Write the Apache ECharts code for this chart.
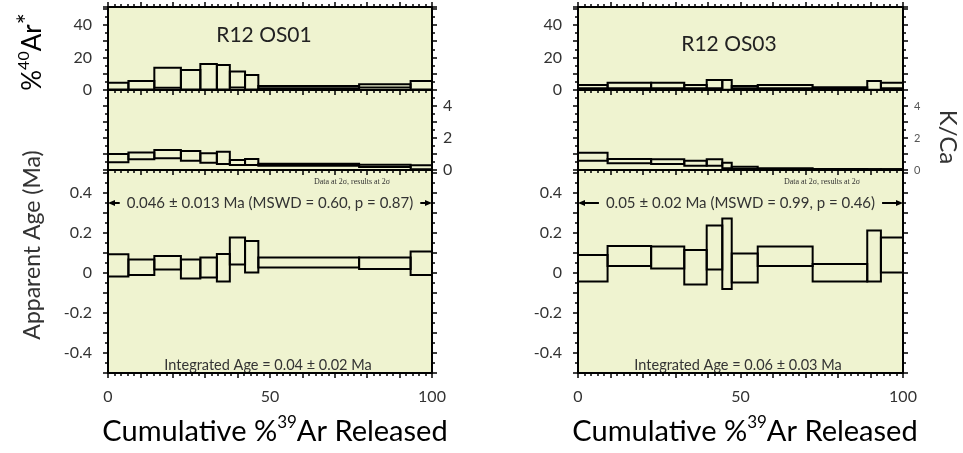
<!DOCTYPE html>
<html>
<head>
<meta charset="utf-8">
<script src="https://cdn.jsdelivr.net/npm/echarts@6/dist/echarts.min.js"></script>
<style>
  html, body { margin: 0; padding: 0; background: #ffffff; }
  #c { width: 963px; height: 453px; }
</style>
</head>
<body>
<div id="c"></div>
<script>
// ---- Sample R12 OS01: step boundaries (cumulative %39Ar) and 2-sigma box limits ----
const os01Steps = [0, 6.3, 14.3, 22.5, 28.5, 33.6, 37.6, 42.3, 46.4, 77.5, 93.4, 100];
const os01AgeLo = [-0.018, -0.010, 0.018, -0.027, -0.022, -0.043, 0.043, 0.003, 0.028, 0.020, -0.010];
const os01AgeHi = [0.094, 0.068, 0.085, 0.068, 0.078, 0.095, 0.178, 0.160, 0.078, 0.078, 0.107];
const os01ArLo = [0.3, 0.3, 1.4, 0.3, 0.3, 0.3, 1.6, 0.3, 1.0, 1.6, 0.3];
const os01ArHi = [4.5, 5.5, 13.7, 12.3, 16.0, 15.4, 11.3, 9.2, 2.5, 3.5, 5.5];
const os01KCaLo = [0.48, 0.67, 0.73, 0.58, 0.46, 0.38, 0.31, 0.31, 0.27, 0.19, 0.04];
const os01KCaHi = [1.00, 1.10, 1.25, 1.19, 1.04, 1.14, 0.63, 0.69, 0.39, 0.33, 0.29];

// ---- Sample R12 OS03 ----
const os03Steps = [0, 9.1, 22.5, 32.7, 39.6, 44.4, 47.3, 55.3, 72.2, 89.0, 93.2, 100];
const os03AgeLo = [-0.043, 0.035, 0.022, -0.057, 0.018, -0.080, -0.048, 0.035, -0.043, -0.043, 0.002];
const os03AgeHi = [0.090, 0.135, 0.132, 0.115, 0.237, 0.273, 0.098, 0.132, 0.045, 0.212, 0.177];
const os03ArLo = [1.0, 1.0, 1.0, 1.0, 1.0, 0.2, 1.0, 1.0, 0.4, 0.2, 1.0];
const os03ArHi = [3.1, 4.5, 4.5, 3.1, 6.2, 6.2, 2.5, 3.1, 1.7, 5.5, 4.5];
const os03KCaLo = [0.58, 0.42, 0.38, 0.27, 0.27, 0.11, 0.06, 0.03, 0.01, 0.01, 0.01];
const os03KCaHi = [1.08, 0.69, 0.67, 0.58, 0.67, 0.46, 0.21, 0.11, 0.06, 0.06, 0.06];

// ---- Texts ----
const sampleNames = ['R12 OS01', 'R12 OS03'];
const plateauTexts = ['0.046 \u00b1 0.013 Ma (MSWD = 0.60, p = 0.87)', '0.05 \u00b1 0.02 Ma (MSWD = 0.99, p = 0.46)'];
const integratedTexts = ['Integrated Age = 0.04 \u00b1 0.02 Ma', 'Integrated Age = 0.06 \u00b1 0.03 Ma'];
const plateauFrom = [0, 0];
const plateauTo = [100, 100];
const xTickLabels = [0, 50, 100];
const arTickLabels = [0, 20, 40];
const kcaTickLabels = [0, 2, 4];
const ageTickLabels = [-0.4, -0.2, 0, 0.2, 0.4];

// ---- Layout / style ----
const FONT = 'Lato, "Open Sans", sans-serif';
const BG = '#eff3d0';
const INK = '#000';
const TXT = '#333';
const panelLeft = [108, 578];
const panelWidth = [324, 325];
const rowTop = [7, 90, 170];
const rowHeight = [83, 80, 203];
const plateauY = 0.35;

const samples = [
  { steps: os01Steps, rows: [[os01ArLo, os01ArHi], [os01KCaLo, os01KCaHi], [os01AgeLo, os01AgeHi]] },
  { steps: os03Steps, rows: [[os03ArLo, os03ArHi], [os03KCaLo, os03KCaHi], [os03AgeLo, os03AgeHi]] }
];

const rowScale = [
  { min: 0, max: 51, interval: 10, labels: arTickLabels },
  { min: 0, max: 5, interval: 1, labels: kcaTickLabels },
  { min: -0.5, max: 0.515, interval: 0.1, labels: ageTickLabels }
];

function labelIn(list) {
  return function (v) {
    for (const t of list) {
      if (Math.abs(v - t) < 1e-6) return String(t);
    }
    return '';
  };
}

const lineStyle = { color: INK, width: 2 };
const tickStyle = { color: INK, width: 1.5 };

const grids = [], xAxes = [], yAxes = [], series = [];

for (let p = 0; p < 2; p++) {
  for (let r = 0; r < 3; r++) {
    const g = p * 3 + r;
    const sc = rowScale[r];
    grids.push({
      left: panelLeft[p], top: rowTop[r], width: panelWidth[p], height: rowHeight[r],
      show: true, backgroundColor: BG, borderWidth: 0,
      containLabel: false, outerBoundsMode: 'none'
    });
    // bottom edge
    xAxes.push({
      gridIndex: g, type: 'value', position: 'bottom', min: 0, max: 100, interval: 10,
      axisLine: { show: true, onZero: false, lineStyle },
      axisTick: { show: r === 2, length: 5, lineStyle: tickStyle },
      minorTick: { show: r === 2, splitNumber: 5, length: 3, lineStyle: tickStyle },
      axisLabel: { show: r === 2, margin: 16, fontSize: 16, color: TXT, fontFamily: FONT, formatter: labelIn(xTickLabels) },
      splitLine: { show: false }
    });
    // top edge
    xAxes.push({
      gridIndex: g, type: 'value', position: 'top', min: 0, max: 100, interval: 10,
      axisLine: { show: true, onZero: false, lineStyle },
      axisTick: { show: true, inside: r !== 0, length: 5, lineStyle: tickStyle },
      minorTick: { show: true, splitNumber: 5, length: 3, lineStyle: tickStyle },
      axisLabel: { show: false },
      splitLine: { show: false }
    });
    // left edge
    yAxes.push({
      gridIndex: g, type: 'value', position: 'left', min: sc.min, max: sc.max, interval: sc.interval,
      axisLine: { show: true, onZero: false, lineStyle },
      axisTick: { show: true, length: 5, lineStyle: tickStyle },
      minorTick: { show: true, splitNumber: 2, length: 3, lineStyle: tickStyle },
      axisLabel: { show: r !== 1, margin: 16, fontSize: 16, color: TXT, fontFamily: FONT, formatter: labelIn(sc.labels), showMaxLabel: false },
      splitLine: { show: false }
    });
    // right edge
    yAxes.push({
      gridIndex: g, type: 'value', position: 'right', min: sc.min, max: sc.max, interval: sc.interval,
      axisLine: { show: true, onZero: false, lineStyle },
      axisTick: { show: true, length: 5, lineStyle: tickStyle },
      minorTick: { show: true, splitNumber: 2, length: 3, lineStyle: tickStyle },
      axisLabel: {
        show: r === 1, margin: 11, fontSize: p === 0 ? 16 : 11, color: p === 0 ? TXT : '#555',
        fontFamily: FONT, formatter: labelIn(sc.labels), showMaxLabel: false
      },
      splitLine: { show: false }
    });

    // step boxes
    const s = samples[p];
    const lo = s.rows[r][0], hi = s.rows[r][1];
    const data = [];
    for (let i = 0; i < lo.length; i++) data.push([s.steps[i], s.steps[i + 1], lo[i], hi[i]]);
    series.push({
      type: 'custom', xAxisIndex: 2 * g, yAxisIndex: 2 * g, data,
      encode: { x: [0, 1], y: [2, 3] }, silent: true, clip: false, z: 5,
      renderItem: function (params, api) {
        const a = api.coord([api.value(0), api.value(3)]);
        const b = api.coord([api.value(1), api.value(2)]);
        return {
          type: 'rect',
          shape: { x: a[0], y: a[1], width: b[0] - a[0], height: b[1] - a[1] },
          style: { fill: 'none', stroke: INK, lineWidth: 2 }
        };
      }
    });

    // plateau arrow with its age text
    if (r === 2) {
      series.push({
        type: 'custom', xAxisIndex: 2 * g, yAxisIndex: 2 * g,
        data: [[plateauFrom[p], plateauTo[p], plateauY]],
        encode: { x: [0, 1], y: 2 }, silent: true, clip: false, z: 6,
        renderItem: function (params, api) {
          const a = api.coord([api.value(0), api.value(2)]);
          const b = api.coord([api.value(1), api.value(2)]);
          const y = a[1];
          return {
            type: 'group',
            children: [
              { type: 'line', shape: { x1: a[0] + 4, y1: y, x2: b[0] - 4, y2: y }, style: { stroke: INK, lineWidth: 2 } },
              { type: 'polygon', shape: { points: [[a[0], y], [a[0] + 7, y - 3], [a[0] + 7, y + 3]] }, style: { fill: INK } },
              { type: 'polygon', shape: { points: [[b[0], y], [b[0] - 7, y - 3], [b[0] - 7, y + 3]] }, style: { fill: INK } },
              {
                type: 'text', x: (a[0] + b[0]) / 2, y: y,
                style: {
                  text: plateauTexts[p], fill: TXT, font: '15px ' + FONT,
                  align: 'center', verticalAlign: 'middle',
                  backgroundColor: BG, padding: [1, 7]
                }
              }
            ]
          };
        }
      });
    }
  }
}

// free-standing texts
const graphics = [];
const titlePos = [[264, 35], [729, 44]];
for (let p = 0; p < 2; p++) {
  graphics.push({
    type: 'text', x: titlePos[p][0], y: titlePos[p][1], silent: true,
    style: { text: sampleNames[p], font: '21px ' + FONT, fill: '#222', align: 'center', verticalAlign: 'middle' }
  });
  graphics.push({
    type: 'text', x: panelLeft[p] + 244, y: 182, silent: true,
    style: { text: 'Data at 2\u03c3, results at 2\u03c3', font: '8px "Liberation Serif", serif', fill: TXT, align: 'center', verticalAlign: 'middle' }
  });
  graphics.push({
    type: 'text', x: panelLeft[p] + 160, y: 365, silent: true,
    style: { text: integratedTexts[p], font: '14.5px ' + FONT, fill: TXT, align: 'center', verticalAlign: 'middle' }
  });
  graphics.push({
    type: 'text', x: panelLeft[p] + 167, y: 432, silent: true,
    style: {
      text: '{m|Cumulative %}{s|39}{m|Ar Released}', align: 'center', verticalAlign: 'middle',
      rich: {
        m: { fontSize: 29, fontFamily: FONT, color: TXT, lineHeight: 35 },
        s: { fontSize: 17, fontFamily: FONT, color: TXT, lineHeight: 17, verticalAlign: 'top' }
      }
    }
  });
}
// vertical axis titles
graphics.push({
  type: 'text', x: 33, y: 52, rotation: Math.PI / 2, silent: true,
  style: {
    text: '{m|%}{s|40}{m|Ar}{a|*}', align: 'center', verticalAlign: 'middle',
    rich: {
      m: { fontSize: 26, fontFamily: FONT, color: TXT, lineHeight: 34 },
      s: { fontSize: 16, fontFamily: FONT, color: TXT, lineHeight: 16, verticalAlign: 'top' },
      a: { fontSize: 26, fontFamily: FONT, color: TXT, lineHeight: 22, verticalAlign: 'top' }
    }
  }
});
graphics.push({
  type: 'text', x: 33, y: 245, rotation: Math.PI / 2, silent: true,
  style: { text: 'Apparent Age (Ma)', font: '23px ' + FONT, fill: TXT, align: 'center', verticalAlign: 'middle' }
});
graphics.push({
  type: 'text', x: 948, y: 137, rotation: -Math.PI / 2, silent: true,
  style: { text: 'K/Ca', font: '24px ' + FONT, fill: TXT, align: 'center', verticalAlign: 'middle' }
});

const chart = echarts.init(document.getElementById('c'));
chart.setOption({
  animation: false,
  backgroundColor: '#ffffff',
  grid: grids,
  xAxis: xAxes,
  yAxis: yAxes,
  series: series,
  graphic: graphics
});
</script>
</body>
</html>
